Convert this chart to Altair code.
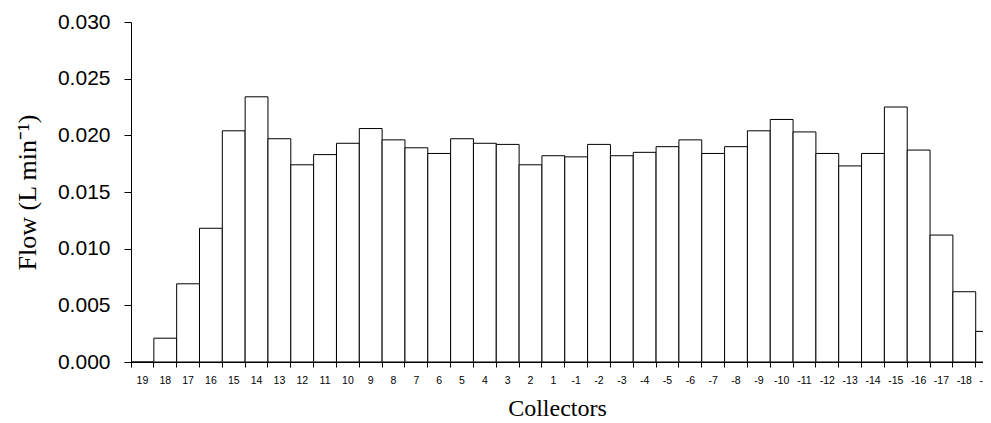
import altair as alt
import pandas as pd

collectors = ["19", "18", "17", "16", "15", "14", "13", "12", "11", "10",
              "9", "8", "7", "6", "5", "4", "3", "2", "1",
              "-1", "-2", "-3", "-4", "-5", "-6", "-7", "-8", "-9", "-10",
              "-11", "-12", "-13", "-14", "-15", "-16", "-17", "-18", "-19"]
flow = [0.0000, 0.0021, 0.0069, 0.0118, 0.0204, 0.0234, 0.0197, 0.0174, 0.0183, 0.0193,
        0.0206, 0.0196, 0.0189, 0.0184, 0.0197, 0.0193, 0.0192, 0.0174, 0.0182,
        0.0181, 0.0192, 0.0182, 0.0185, 0.0190, 0.0196, 0.0184, 0.0190, 0.0204, 0.0214,
        0.0203, 0.0184, 0.0173, 0.0184, 0.0225, 0.0187, 0.0112, 0.0062, 0.0027]
y_ticks = [0.0, 0.005, 0.010, 0.015, 0.020, 0.025, 0.030]

df = pd.DataFrame({"collector": collectors, "flow": flow})

STEP = 22.83
FULL = STEP * len(collectors)
LEFT = 123
TOP = 14
PLOT_H = 340
PAGE_W = 975
PAGE_H = 413

chart = alt.Chart(df).mark_bar(fill="white", stroke="black", strokeWidth=1).encode(
    x=alt.X("collector:N", sort=collectors,
            scale=alt.Scale(paddingInner=0, paddingOuter=0),
            axis=alt.Axis(title="Collectors", bandPosition=0,
                          labelAngle=0, labelFont="Liberation Sans", labelFontSize=10.5,
                          labelColor="black", labelPadding=8, tickSize=5, tickColor="black",
                          domainColor="black", labelOverlap=False,
                          titleFont="Liberation Serif", titleFontSize=24, titleFontWeight="normal",
                          titleColor="black", titleX=426, titleY=53, titleBaseline="alphabetic",
                          titleAnchor="start", titleAlign="center")),
    y=alt.Y("flow:Q", scale=alt.Scale(domain=[0, 0.03], nice=False),
            axis=alt.Axis(title="Flow (L min⁻¹)", values=y_ticks, format=".3f", grid=False,
                          labelFont="Liberation Sans", labelFontSize=21, labelColor="black",
                          labelPadding=14, tickSize=7, tickColor="black", domainColor="black",
                          titleFont="Liberation Serif", titleFontSize=26, titleFontWeight="normal",
                          titleColor="black", titlePadding=17)),
).properties(
    width=FULL, height=PLOT_H,
    autosize=alt.AutoSizeParams(type="none"),
    padding={"left": LEFT, "top": TOP, "right": PAGE_W - LEFT - FULL,
             "bottom": PAGE_H - TOP - PLOT_H},
).configure_view(stroke="transparent")

chart.save("out.html", embed_options={"renderer": "svg", "actions": False})
